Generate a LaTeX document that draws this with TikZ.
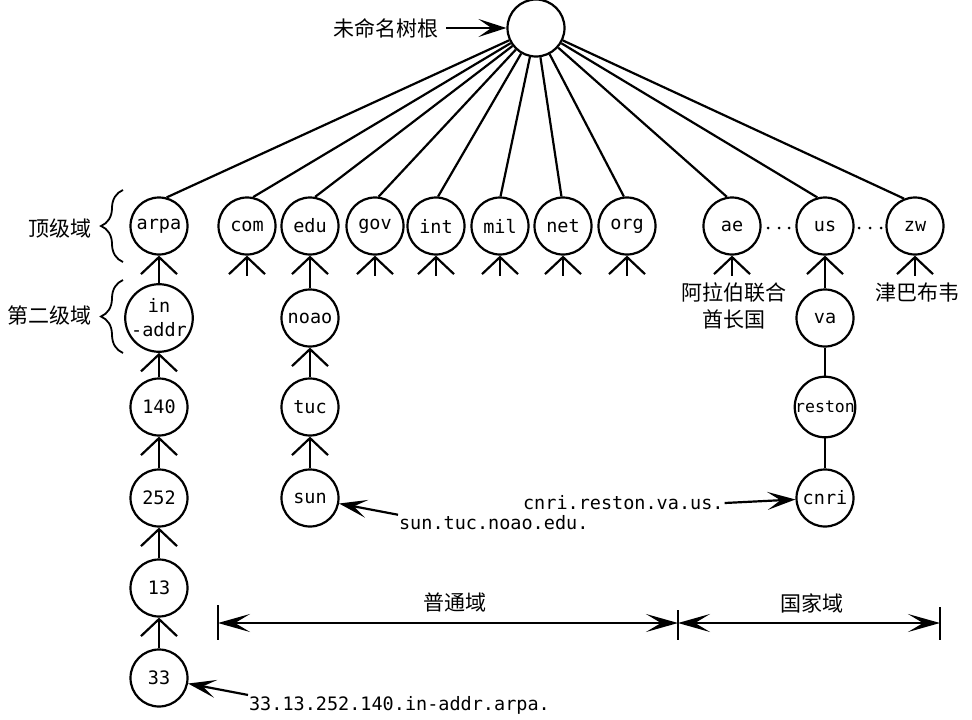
\documentclass[tikz,border=0pt]{standalone}
\usepackage{fontspec}
\setmainfont{DejaVu Sans}
\setmonofont{DejaVu Sans Mono}
\newfontfamily\cjk{Noto Sans CJK SC}
\usetikzlibrary{arrows.meta,decorations.pathreplacing}
\begin{document}
\begin{tikzpicture}[x=1pt,y=-1pt,line width=2.2pt,
  dn/.style={circle,draw,minimum size=57pt,inner sep=0pt,align=center,font=\ttfamily\fontsize{18.5}{24}\selectfont},
  lbl/.style={font=\ttfamily\fontsize{18.5}{22}\selectfont,inner sep=0pt},
  cn/.style={font=\cjk\fontsize{21}{27}\selectfont,inner sep=0pt,align=center},
  upa/.style={-{Straight Barb[length=17pt,width=36pt]}},
  ptr/.style={-{Stealth[length=28pt,width=18pt,inset=13pt]}},
  spanarr/.style={{Stealth[length=32pt,width=18pt,inset=15pt]}-{Stealth[length=32pt,width=18pt,inset=15pt]}},
  bracestyle/.style={decorate,decoration={brace,amplitude=22pt},line width=1.8pt}
]
\useasboundingbox (0,0) rectangle (972,720);

% root
\node[dn] (root) at (536,28) {};
\node[cn,anchor=east] (rootlbl) at (440,28) {未命名树根};
\draw[ptr,shorten <=6pt] (rootlbl) -- (root);

% top level
\node[dn] (arpa) at (159,226) {arpa};
\node[dn] (com)  at (247,226) {com};
\node[dn] (edu)  at (310,226) {edu};
\node[dn] (gov)  at (375,226) {gov};
\node[dn] (int)  at (436,226) {int};
\node[dn] (mil)  at (500,226) {mil};
\node[dn] (net)  at (563,226) {net};
\node[dn] (org)  at (627,226) {org};
\node[dn] (ae)   at (732,226) {ae};
\node[dn] (us)   at (825,226) {us};
\node[dn] (zw)   at (915,226) {zw};

\draw (root) -- (arpa.75);
\draw (root) -- (com.78);
\draw (root) -- (edu.80);
\draw (root) -- (gov.83);
\draw (root) -- (int.86);
\draw (root) -- (mil.89);
\draw (root) -- (net.93);
\draw (root) -- (org.96);
\draw (root) -- (ae.100);
\draw (root) -- (us.105);
\draw (root) -- (zw.112);

% leaf stems
\foreach \n in {com,gov,int,mil,net,org,ae,zw}
  \draw[upa] ([yshift=-20pt]\n.south) -- (\n.south);

% dots
\foreach \x in {768,779,789,859,870,881}
  \fill (\x,228) circle (1.5pt);

% arpa column
\node[dn] (inaddr) at (159,318) {in\\-addr};
\node[dn] (n140) at (159,407) {140};
\node[dn] (n252) at (159,498) {252};
\node[dn] (n13)  at (159,588) {13};
\node[dn] (n33)  at (159,678) {33};
\draw[upa] (inaddr) -- (arpa);
\draw[upa] (n140) -- (inaddr);
\draw[upa] (n252) -- (n140);
\draw[upa] (n13) -- (n252);
\draw[upa] (n33) -- (n13);

% edu column
\node[dn] (noao) at (310,318) {noao};
\node[dn] (tuc)  at (310,407) {tuc};
\node[dn] (sun)  at (310,498) {sun};
\draw[upa] (noao) -- (edu);
\draw[upa] (tuc) -- (noao);
\draw[upa] (sun) -- (tuc);

% us column
\node[dn] (va) at (825,318) {va};
\node[dn,font=\ttfamily\fontsize{16.5}{20}\selectfont] (reston) at (825,407) {reston};
\node[dn] (cnri) at (825,498) {cnri};
\draw[upa] (va) -- (us);
\draw (reston) -- (va);
\draw (cnri) -- (reston);

% braces and level labels
\draw[bracestyle] (123,262) -- (123,190);
\draw[bracestyle] (123,353) -- (123,280);
\node[cn] (toplbl) at (60,229) {顶级域};
\node[cn] (seclbl) at (50,315) {第二级域};

% country labels
\node[cn] (aelbl) at (734,306) {阿拉伯联合\\酋长国};
\node[cn] (zwlbl) at (917,293) {津巴布韦};

% name labels
\node[lbl,anchor=west] (sunlbl) at (398,523) {sun.tuc.noao.edu.};
\draw[ptr] (sunlbl.north west) -- (sun);
\node[lbl,anchor=west] (cnlbl) at (522,503) {cnri.reston.va.us.};
\draw[ptr] (cnlbl.east) -- (cnri);
\node[lbl,anchor=west] (iplbl) at (248,705) {33.13.252.140.in-addr.arpa.};
\draw[ptr] (iplbl.north west) -- (n33);

% domain spans
\coordinate (gL) at (218,623);
\coordinate (gM) at (678,623);
\coordinate (gR) at (940,623);
\draw[spanarr] (gL) -- (gM);
\draw[spanarr] (gM) -- (gR);
\draw[line width=1.8pt] (218,605) -- (218,640);
\draw[line width=1.8pt] (678,610) -- (678,640);
\draw[line width=1.8pt] (940,607) -- (940,640);
\node[cn] (genlbl) at (455,602) {普通域};
\node[cn] (ctylbl) at (812,603) {国家域};
\end{tikzpicture}
\end{document}
